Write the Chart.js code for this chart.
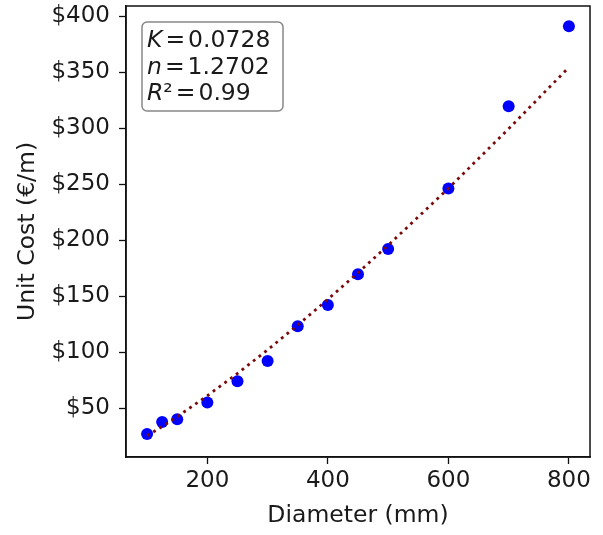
<!DOCTYPE html>
<html>
<head>
<meta charset="utf-8">
<script src="https://cdn.jsdelivr.net/npm/chart.js@4/dist/chart.umd.min.js"></script>
<style>
html,body{margin:0;padding:0;background:#fff;}
#wrap{width:603px;height:535px;}
</style>
</head>
<body>
<div id="wrap"><canvas id="c" width="603" height="535"></canvas></div>
<script>
// Data
const diameters = [100,125,150,200,250,300,350,400,450,500,600,700,800];
const unitCosts = [26.8,37.5,40,55,74,92,123,142,169.5,192,246,319.5,391];
const fitCosts  = [25.3,33.5,42.3,61,80.9,102,124.1,147.1,170.8,195.3,246.1,299.4,354.2];
const xTicks = [200,400,600,800];
const yTicks = [50,100,150,200,250,300,350,400];
const fitLines = [['K','=','0.0728'],['n','=','1.2702'],['R','²','=','0.99']];

const FONT = "'DejaVu Sans', sans-serif";
const TXT = '#1a1a1a';

const frame = {
  id:'frame',
  afterDatasetsDraw(chart){
    const {ctx, chartArea:a} = chart;
    ctx.save();
    ctx.strokeStyle = '#111';
    ctx.lineWidth = 1.5;
    ctx.strokeRect(a.left, a.top, a.right-a.left, a.bottom-a.top);
    // text box
    const bx = a.left+16, by = a.top+16, bw = 141, bh = 89;
    ctx.fillStyle = 'rgba(255,255,255,0.85)';
    ctx.strokeStyle = '#888';
    ctx.lineWidth = 1.5;
    ctx.beginPath();
    ctx.roundRect(bx, by, bw, bh, 5);
    ctx.fill(); ctx.stroke();
    ctx.fillStyle = TXT;
    ctx.textBaseline = 'alphabetic';
    ctx.textAlign = 'left';
    fitLines.forEach((l,i)=>{
      const y = by + 25 + i*26.5;
      let x = bx + 5;
      ctx.font = "italic 23.5px " + FONT;
      ctx.fillText(l[0], x, y);
      x += ctx.measureText(l[0]).width;
      ctx.font = "23.5px " + FONT;
      let rest = l.slice(1);
      if (rest[0] === '²') {
        ctx.fillText('²', x, y);
        x += ctx.measureText('²').width;
        rest = rest.slice(1);
      }
      x += 3;
      ctx.fillText(rest[0], x, y);
      x += ctx.measureText(rest[0]).width + 3;
      ctx.fillText(rest[1], x, y);
    });
    ctx.restore();
  }
};

new Chart(document.getElementById('c'), {
  type:'scatter',
  data:{
    datasets:[
      {
        type:'line',
        label:'fit',
        data: diameters.map((d,i)=>({x:d,y:fitCosts[i]})),
        borderColor:'#7a0a0a',
        borderWidth:2.8,
        borderDash:[2.8,4.4],
        pointRadius:0,
        fill:false,
        tension:0,
        order:0
      },
      {
        label:'data',
        data: diameters.map((d,i)=>({x:d,y:unitCosts[i]})),
        backgroundColor:'#0000ff',
        borderColor:'#0000ff',
        pointRadius:6,
        pointBorderWidth:0,
        order:1
      }
    ]
  },
  options:{
    responsive:false,
    animation:false,
    layout:{padding:{left:0,right:13,top:6,bottom:0}},
    plugins:{legend:{display:false},tooltip:{enabled:false}},
    scales:{
      x:{
        type:'linear', min:65, max:835,
        afterBuildTicks(s){ s.ticks = xTicks.map(v=>({value:v})); },
        afterFit(s){ s.height = 78; s.paddingLeft = 0; s.paddingRight = 0; },
        grid:{drawOnChartArea:false, tickLength:7, tickColor:'#111', tickWidth:1.3},
        border:{display:true,color:'#111',width:1.5},
        ticks:{color:TXT, font:{family:FONT,size:23}, padding:3, maxRotation:0},
        title:{display:true,text:'Diameter (mm)',color:TXT,font:{family:FONT,size:23.5},padding:{top:0,bottom:5}}
      },
      y:{
        type:'linear', min:6.3, max:409,
        afterBuildTicks(s){ s.ticks = yTicks.map(v=>({value:v})); },
        afterFit(s){ s.width = 126; s.paddingTop = 0; s.paddingBottom = 0; },
        grid:{drawOnChartArea:false, tickLength:7, tickColor:'#111', tickWidth:1.3},
        border:{display:true,color:'#111',width:1.5},
        ticks:{color:TXT, font:{family:FONT,size:23}, padding:9, callback:v=>'$'+v},
        title:{display:true,text:'Unit Cost (€/m)',color:TXT,font:{family:FONT,size:23.5},padding:{top:14,bottom:4}}
      }
    }
  },
  plugins:[frame]
});
</script>
</body>
</html>
